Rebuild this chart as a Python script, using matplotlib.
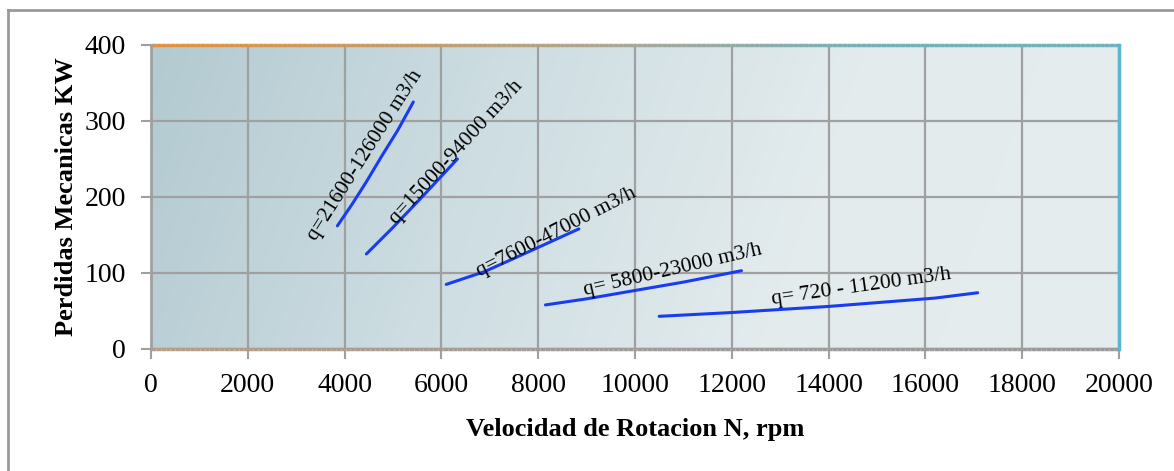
import numpy as np
import matplotlib
matplotlib.use("Agg")
import matplotlib.pyplot as plt
from matplotlib.collections import LineCollection
from matplotlib.colors import LinearSegmentedColormap
from matplotlib.lines import Line2D

plt.rcParams['font.family'] = ['Liberation Serif', 'DejaVu Serif']

# Mechanical losses vs rotation speed for each flow range
labels = ["q=21600-126000 m3/h", "q=15000-94000 m3/h", "q=7600-47000 m3/h",
          "q= 5800-23000 m3/h", "q= 720 - 11200 m3/h"]
speed = [
    [3850, 4150, 4450, 4750, 5100, 5420],
    [4450, 5000, 5600, 6330],
    [6100, 6900, 7700, 8840],
    [8150, 9000, 10000, 11000, 12200],
    [10500, 12000, 14000, 16200, 17080],
]
losses = [
    [162, 190, 220, 252, 288, 325],
    [125, 160, 200, 250],
    [85, 102, 125, 158],
    [58, 66, 77, 88, 103],
    [43, 48, 56, 67, 74],
]
# label anchor (x, y) and rotation in degrees
label_x = [4430, 6310, 8370, 10790, 14680]
label_y = [255, 259, 153, 104, 82]
label_rot = [57.5, 47.5, 27, 13, 8]

xticks = list(range(0, 20001, 2000))
yticks = [0, 100, 200, 300, 400]

fig = plt.figure(figsize=(11.74, 4.71), dpi=100)
fig.patch.set_facecolor("white")

# outer frame lines (top and left)
fig.add_artist(Line2D([8/1174, 8/1174], [0, 1 - 10/471], transform=fig.transFigure,
                      color="#9a9a9a", lw=2))
fig.add_artist(Line2D([8/1174, 1], [1 - 10/471, 1 - 10/471], transform=fig.transFigure,
                      color="#9a9a9a", lw=2))

ax = fig.add_axes([151/1174, 1 - 349/471, (1119 - 151)/1174, (349 - 45)/471])
ax.set_xlim(0, 20000)
ax.set_ylim(0, 400)

# gradient plot-area background
bg = LinearSegmentedColormap.from_list("bg", ["#b3cad1", "#cddde2", "#e3ebed", "#e5edef"])
gx = np.linspace(0, 1, 400)
gy = np.linspace(0, 1, 100)
GX, GY = np.meshgrid(gx, gy)
G = np.clip(GX * 0.9 + (1 - GY) * 0.1, 0, 1)
ax.imshow(G, cmap=bg, extent=[0, 20000, 0, 400], aspect="auto", origin="lower",
          zorder=0, interpolation="bilinear")

ax.set_xticks(xticks)
ax.set_yticks(yticks)
ax.set_xticklabels([str(t) for t in xticks])
ax.set_yticklabels([str(t) for t in yticks])
ax.grid(True, color="#a0a0a0", lw=1.6, zorder=1)
ax.tick_params(axis="both", direction="out", length=7, width=1.5, color="#a0a0a0",
               labelsize=20)
ax.tick_params(axis="y", pad=11)
ax.tick_params(axis="x", pad=10)

for s in ax.spines.values():
    s.set_visible(False)

# gradient-coloured frame edges
def grad_edge(x0, x1, y, cols):
    xs = np.linspace(x0, x1, 200)
    segs = [[(xs[i], y), (xs[i + 1], y)] for i in range(len(xs) - 1)]
    cm = LinearSegmentedColormap.from_list("e", cols)
    lc = LineCollection(segs, colors=cm(np.linspace(0, 1, len(segs))), lw=2.5,
                        zorder=3, clip_on=False)
    ax.add_collection(lc)

grad_edge(0, 20000, 400, ["#e4913a", "#c89a64", "#a6a898", "#72b0ba", "#70b2bc"])
grad_edge(0, 20000, 0, ["#b89e84", "#a49c94", "#9c9c9c", "#9a9a9a"])
ax.plot([0, 0], [0, 400], color="#a0a0a0", lw=2, zorder=3, clip_on=False)
ax.plot([20000, 20000], [0, 400], color="#5ab6cc", lw=2.5, zorder=3, clip_on=False)

for xs, ys in zip(speed, losses):
    ax.plot(xs, ys, color="#1a3cf0", lw=2.2, zorder=4, solid_capstyle="round")

for lab, lx, ly, rot in zip(labels, label_x, label_y, label_rot):
    ax.text(lx, ly, lab, rotation=rot, rotation_mode="anchor", ha="center", va="center",
            fontsize=15.5, color="black", zorder=5)

ax.set_xlabel("Velocidad de Rotacion N, rpm", fontsize=19, fontweight="bold", labelpad=15)
ax.set_ylabel("Perdidas Mecanicas KW", fontsize=19, fontweight="bold", labelpad=5)

fig.savefig("out.png", dpi=100)
